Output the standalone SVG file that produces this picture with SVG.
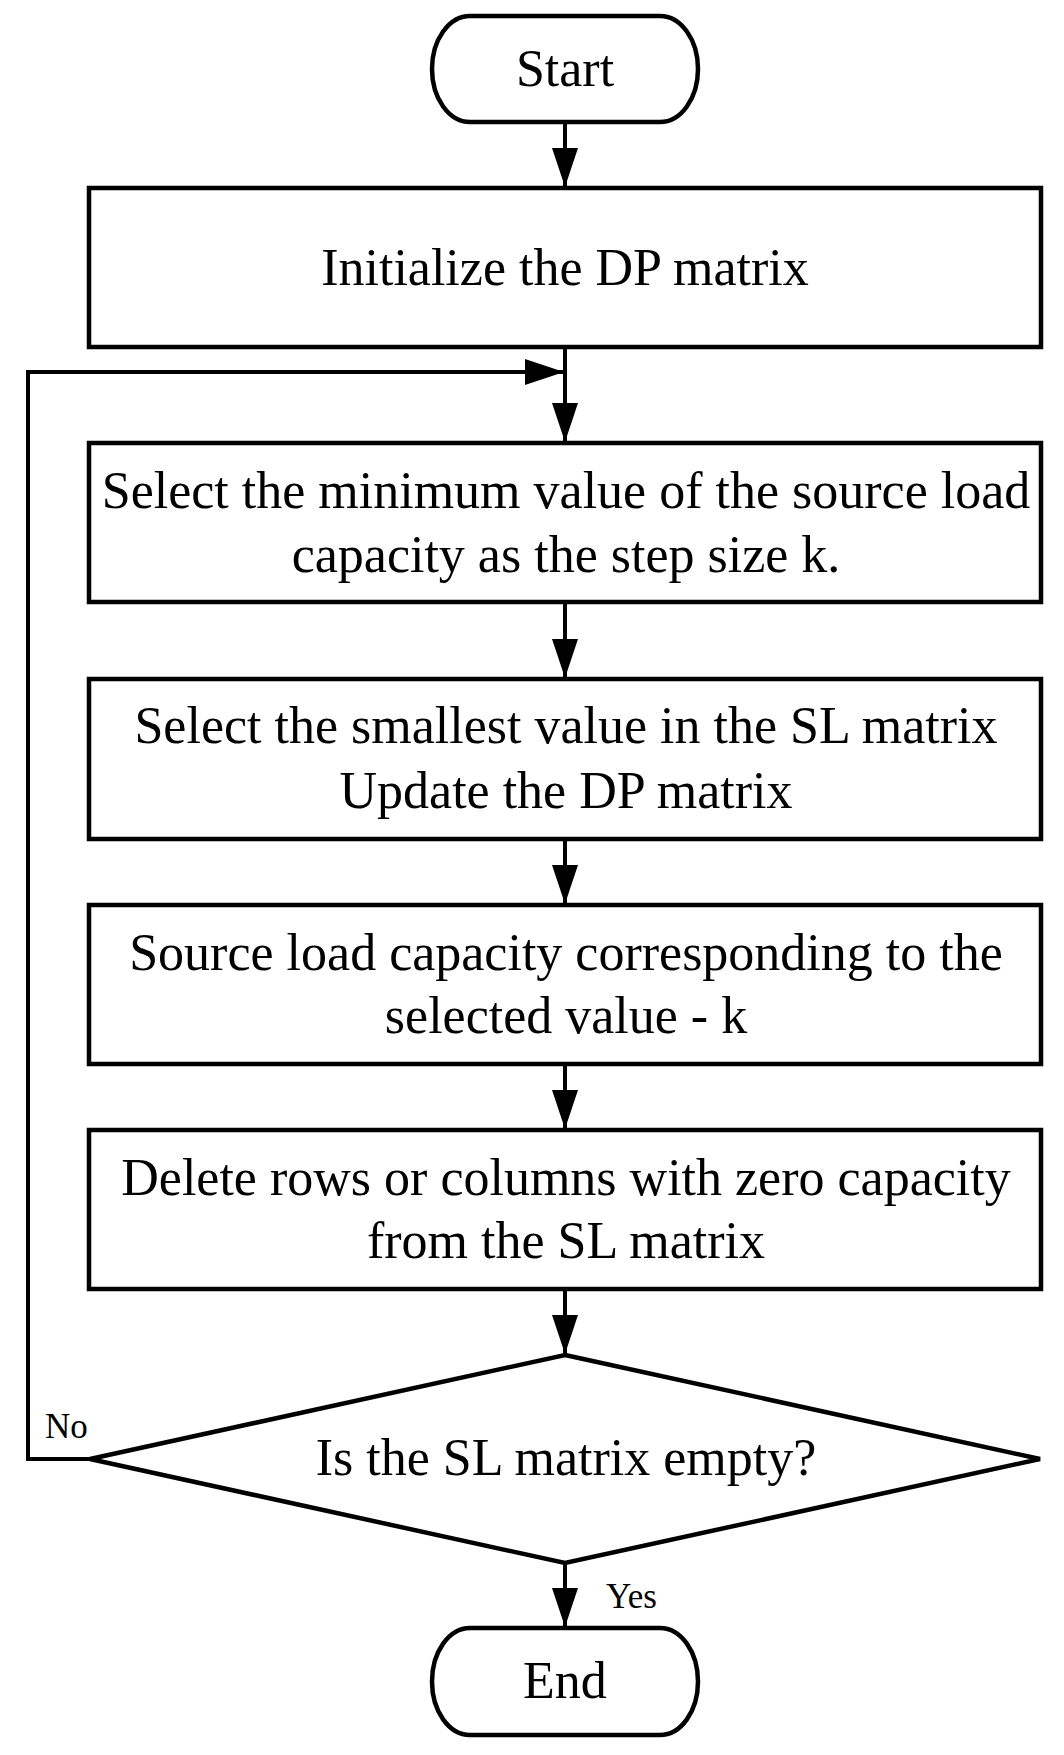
<svg xmlns="http://www.w3.org/2000/svg" width="1064" height="1755" viewBox="0 0 1064 1755">
  <style>
    .shape { fill: #ffffff; stroke: #000000; stroke-width: 4.5; }
    .conn { fill: none; stroke: #000000; stroke-width: 4; }
    .t { font-family: "Liberation Serif", "Times New Roman", serif; font-size: 52px; fill: #000000; text-anchor: middle; }
    .lbl { font-family: "Liberation Serif", "Times New Roman", serif; font-size: 35px; fill: #000000; }
  </style>
  <defs>
    <marker id="arrow" markerUnits="userSpaceOnUse" markerWidth="40" markerHeight="28" refX="39" refY="13" orient="auto">
      <path d="M0,0 L39,13 L0,26 Z" fill="#000000"/>
    </marker>
  </defs>
  <rect width="1064" height="1755" fill="#ffffff"/>

  <g id="connectors">
    <line class="conn" x1="565" y1="123" x2="565" y2="187" marker-end="url(#arrow)"/>
    <line class="conn" x1="565" y1="347" x2="565" y2="442" marker-end="url(#arrow)"/>
    <line class="conn" x1="565" y1="602" x2="565" y2="678" marker-end="url(#arrow)"/>
    <line class="conn" x1="565" y1="839" x2="565" y2="904" marker-end="url(#arrow)"/>
    <line class="conn" x1="565" y1="1064" x2="565" y2="1129" marker-end="url(#arrow)"/>
    <line class="conn" x1="565" y1="1289" x2="565" y2="1354" marker-end="url(#arrow)"/>
    <line class="conn" x1="565" y1="1563" x2="565" y2="1627" marker-end="url(#arrow)"/>
    <polyline class="conn" points="90,1459 28,1459 28,372 564,372" marker-end="url(#arrow)"/>
    <text class="lbl" x="45" y="1438">No</text>
    <text class="lbl" x="606" y="1608">Yes</text>
  </g>

  <g id="start">
    <rect class="shape" x="432" y="16" width="266" height="106" rx="38" ry="53"/>
    <text class="t" x="565" y="86">Start</text>
  </g>

  <g id="init">
    <rect class="shape" x="89" y="188" width="952" height="159"/>
    <text class="t" x="565" y="285">Initialize the DP matrix</text>
  </g>

  <g id="select-step">
    <rect class="shape" x="89" y="443" width="952" height="159"/>
    <text class="t" x="566" y="508">Select the minimum value of the source load</text>
    <text class="t" x="566" y="572">capacity as the step size k.</text>
  </g>

  <g id="select-smallest">
    <rect class="shape" x="89" y="679" width="952" height="160"/>
    <text class="t" x="566" y="743">Select the smallest value in the SL matrix</text>
    <text class="t" x="566" y="808">Update the DP matrix</text>
  </g>

  <g id="capacity">
    <rect class="shape" x="89" y="905" width="952" height="159"/>
    <text class="t" x="566" y="970">Source load capacity corresponding to the</text>
    <text class="t" x="566" y="1033">selected value - k</text>
  </g>

  <g id="delete">
    <rect class="shape" x="89" y="1130" width="952" height="159"/>
    <text class="t" x="566" y="1195">Delete rows or columns with zero capacity</text>
    <text class="t" x="566" y="1258">from the SL matrix</text>
  </g>

  <g id="decision">
    <polygon class="shape" points="565,1355 1040,1459 565,1563 90,1459"/>
    <text class="t" x="566" y="1475">Is the SL matrix empty?</text>
  </g>

  <g id="end">
    <rect class="shape" x="432" y="1628" width="266" height="107" rx="38" ry="53.5"/>
    <text class="t" x="565" y="1698">End</text>
  </g>
</svg>
